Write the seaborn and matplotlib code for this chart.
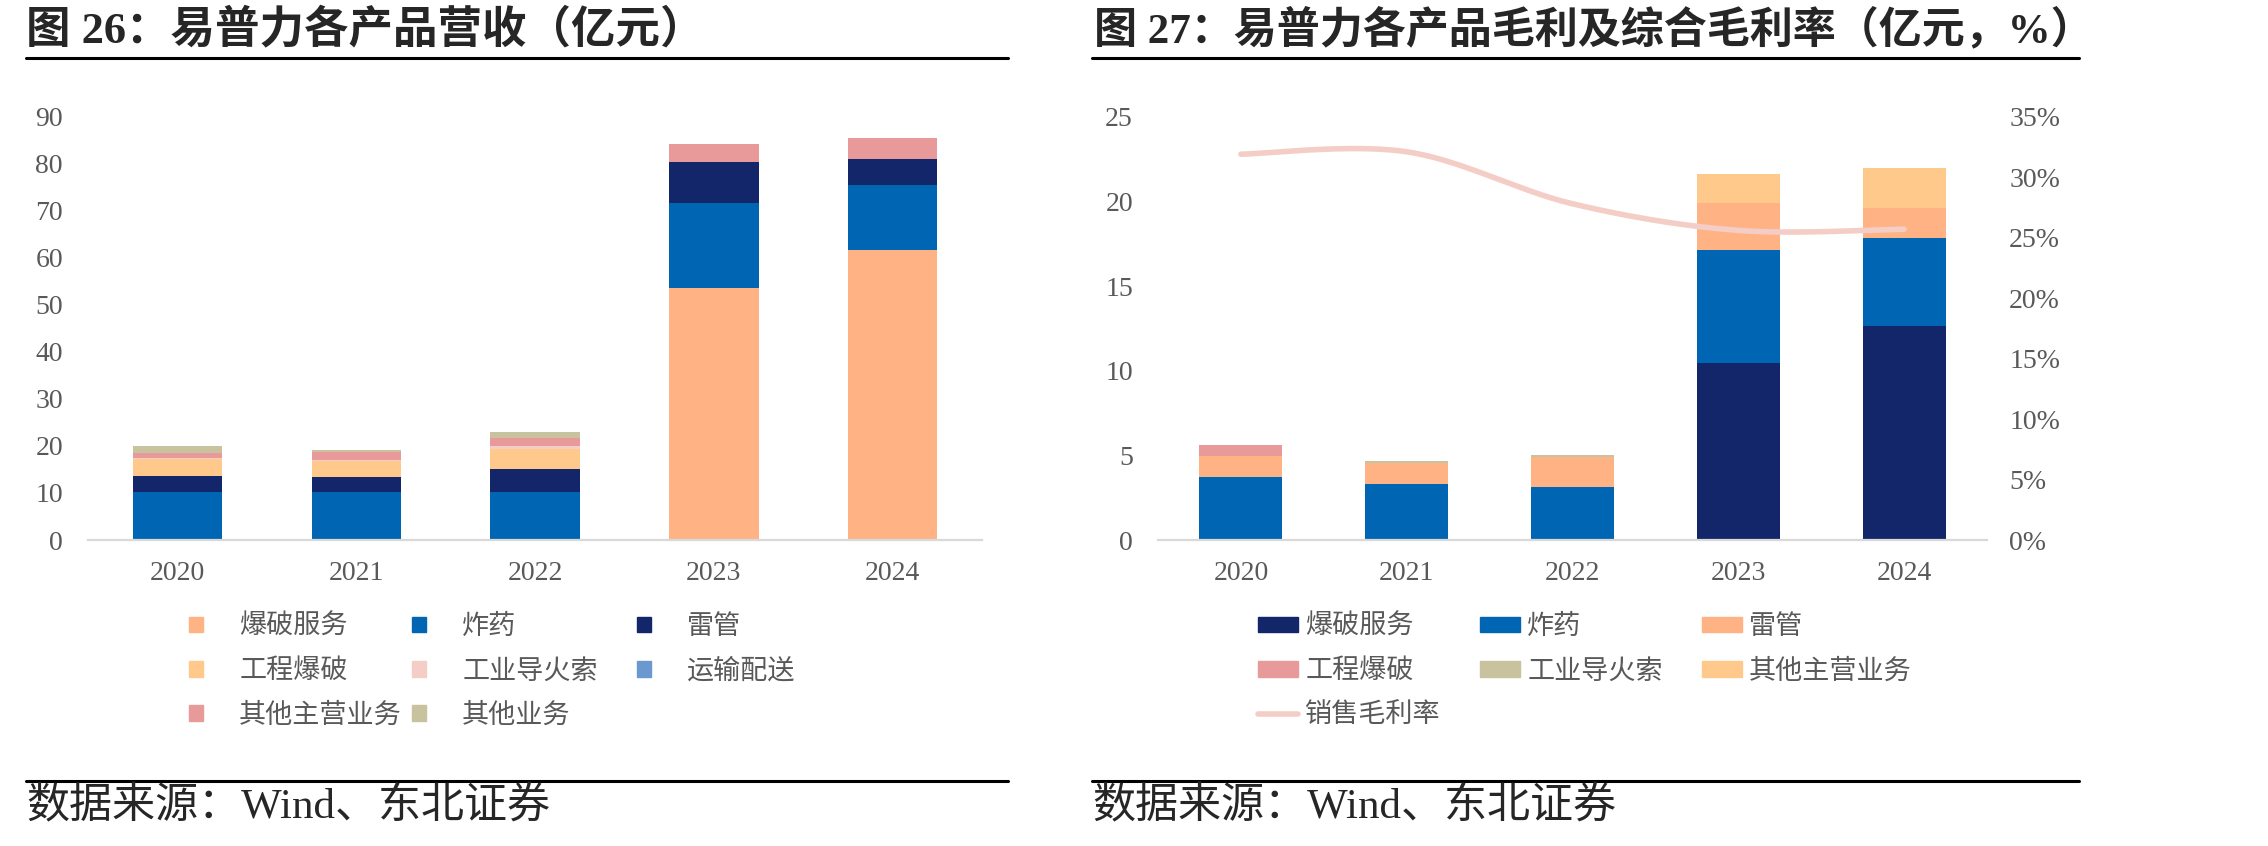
import numpy as np
import seaborn as sns
import matplotlib.pyplot as plt
from matplotlib.patches import Patch
from matplotlib.lines import Line2D

years = ['2020', '2021', '2022', '2023', '2024']

# 图26 营收（亿元）
rev_names = ['爆破服务', '炸药', '雷管', '工程爆破', '工业导火索', '运输配送', '其他主营业务', '其他业务']
rev_blast_service = [0, 0, 0, 53.6, 61.7]
rev_explosive = [10.3, 10.1, 10.1, 18.1, 13.7]
rev_detonator = [3.3, 3.2, 5.0, 8.6, 5.6]
rev_engineering = [3.6, 3.5, 4.3, 0, 0]
rev_fuse = [0.3, 0.2, 0.6, 0, 0]
rev_transport = [0, 0, 0, 0, 0]
rev_other_main = [1.1, 1.8, 1.6, 4.0, 4.4]
rev_other = [1.4, 0.35, 1.4, 0, 0]
rev_colors = ['#FFB385', '#0066B3', '#14266A', '#FFC98B', '#F4CDC6', '#6A98CF', '#E89A9A', '#C8C29E']

# 图27 毛利（亿元）及综合毛利率（%）
gp_names = ['爆破服务', '炸药', '雷管', '工程爆破', '工业导火索', '其他主营业务']
gp_blast_service = [0, 0, 0, 10.47, 12.66]
gp_explosive = [3.74, 3.31, 3.15, 6.68, 5.19]
gp_detonator = [1.22, 1.26, 1.73, 2.77, 1.78]
gp_engineering = [0.65, 0, 0, 0, 0]
gp_fuse = [0, 0.12, 0.16, 0, 0]
gp_other_main = [0, 0, 0, 1.71, 2.34]
gp_colors = ['#14266A', '#0066B3', '#FFB385', '#E89A9A', '#C8C29E', '#FFC98B']
margin_name = '销售毛利率'
margin = [31.9, 32.1, 27.8, 25.6, 25.7]
margin_color = '#F4CDC6'

sns.set_style('white')
plt.rcParams['font.family'] = ['Liberation Serif', 'Noto Sans CJK SC']

W, H = 2268, 846
fig = plt.figure(figsize=(W / 100, H / 100), dpi=100)
gray = '#595959'


def px(x, y):
    return x / W, 1 - y / H


def stacked(ax, series, colors):
    cum = np.cumsum(np.array(series, dtype=float), axis=0)
    # draw the running totals from the top down so lower parts cover upper ones
    for i in range(len(series) - 1, -1, -1):
        sns.barplot(x=years, y=cum[i], order=years, color=colors[i], width=0.5,
                    saturation=1, errorbar=None, linewidth=0, ax=ax)


def style_axis(ax):
    ax.set_xlim(-0.5, 4.5)
    for s in ['top', 'right', 'left']:
        ax.spines[s].set_visible(False)
    ax.spines['bottom'].set_color('#D9D9D9')
    ax.spines['bottom'].set_linewidth(1.6)
    ax.tick_params(axis='x', length=0, labelsize=20, labelcolor=gray, pad=15)
    ax.tick_params(axis='y', length=0, labelsize=20, labelcolor=gray, pad=18)
    ax.set_xlabel('')
    ax.set_ylabel('')
    ax.grid(False)


# ---- left chart
ax1 = fig.add_axes([88 / W, 306 / H, 894 / W, 423.3 / H])
stacked(ax1, [rev_blast_service, rev_explosive, rev_detonator, rev_engineering,
              rev_fuse, rev_transport, rev_other_main, rev_other], rev_colors)
style_axis(ax1)
ax1.set_ylim(0, 90)
ax1.set_yticks(range(0, 91, 10))

# ---- right chart
ax2 = fig.add_axes([1158 / W, 306 / H, 829 / W, 423.3 / H])
stacked(ax2, [gp_blast_service, gp_explosive, gp_detonator, gp_engineering,
              gp_fuse, gp_other_main], gp_colors)
style_axis(ax2)
ax2.set_ylim(0, 25)
ax2.set_yticks(range(0, 26, 5))

ax3 = ax2.twinx()
# smoothed line (Bezier through the data points, like Excel's smooth line)
pts = np.array([[i, m] for i, m in enumerate(margin)], dtype=float)
ext = np.vstack([pts[0], pts, pts[-1]])
curve = []
t = np.linspace(0, 1, 40)[:, None]
for i in range(len(pts) - 1):
    p0, p3 = ext[i + 1], ext[i + 2]
    c1 = p0 + (ext[i + 2] - ext[i]) / 6
    c2 = p3 - (ext[i + 3] - ext[i + 1]) / 6
    seg = (1 - t) ** 3 * p0 + 3 * (1 - t) ** 2 * t * c1 + 3 * (1 - t) * t ** 2 * c2 + t ** 3 * p3
    curve.append(seg)
curve = np.vstack(curve)
ax3.plot(curve[:, 0], curve[:, 1], color=margin_color, lw=4, solid_capstyle='round')
ax3.set_ylim(0, 35)
ax3.set_yticks(range(0, 36, 5))
ax3.set_yticklabels([f'{v}%' for v in range(0, 36, 5)])
ax3.set_xlim(-0.5, 4.5)
for s in ax3.spines.values():
    s.set_visible(False)
ax3.tick_params(axis='y', length=0, labelsize=20, labelcolor=gray, pad=16)
ax3.grid(False)

# ---- legends (one per column)
leg_font = {'family': ['Noto Sans CJK SC'], 'size': 19.5}


def col_legend(handles, labels, x, hl, hh, pad):
    lg = fig.legend(handles, labels, loc='upper left', bbox_to_anchor=px(x, 613),
                    frameon=False, borderpad=0, borderaxespad=0, handlelength=hl,
                    handleheight=hh, handletextpad=pad, labelspacing=0.64,
                    prop=leg_font, labelcolor=gray)
    return lg


rev_patch = [Patch(color=c) for c in rev_colors]
for idx, x in zip([[0, 3, 6], [1, 4, 7], [2, 5]], [189, 412, 637]):
    col_legend([rev_patch[i] for i in idx], [rev_names[i] for i in idx], x, 0.52, 0.52, 1.33)

gp_patch = [Patch(color=c) for c in gp_colors]
line_h = Line2D([], [], color=margin_color, lw=4, solid_capstyle='round')
cols = [([gp_patch[0], gp_patch[3], line_h], [gp_names[0], gp_names[3], margin_name]),
        ([gp_patch[1], gp_patch[4]], [gp_names[1], gp_names[4]]),
        ([gp_patch[2], gp_patch[5]], [gp_names[2], gp_names[5]])]
for (h, l), x in zip(cols, [1258, 1480, 1702]):
    col_legend(h, l, x, 1.48, 0.52, 0.26)

# ---- titles, rules and sources
fig.text(*px(26, 30), '图 26：易普力各产品营收（亿元）', fontsize=32, fontweight='bold',
         va='center', ha='left')
fig.text(*px(1094, 30), '图 27：易普力各产品毛利及综合毛利率（亿元，%）', fontsize=31,
         fontweight='bold', va='center', ha='left')
for x0, x1 in [(26, 1008), (1092, 2079)]:
    for y in (58, 781):
        fig.add_artist(Line2D([x0 / W, x1 / W], [1 - y / H] * 2, color='black', lw=2.2))
for x0 in (26, 1092):
    fig.text(*px(x0, 807), '数据来源：Wind、东北证券', fontsize=31, va='center', ha='left')

fig.savefig('out.png', dpi=100)
